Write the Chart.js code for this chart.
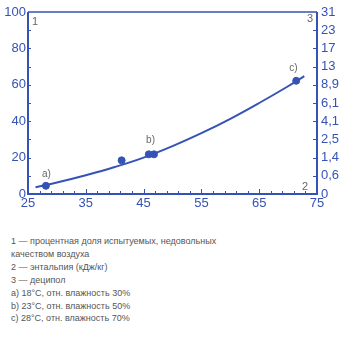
<!DOCTYPE html>
<html>
<head>
<meta charset="utf-8">
<script src="https://cdn.jsdelivr.net/npm/chart.js@4/dist/chart.umd.min.js"></script>
<style>
body { margin: 0; background: #fff; width: 362px; height: 339px; overflow: hidden; }
#wrap { position: relative; width: 362px; height: 215px; }
#notes {
  font-family: "Liberation Sans", Arial, sans-serif;
  font-size: 9px; color: #555; line-height: 12.9px;
  margin: 20px 0 0 11px;
}
</style>
</head>
<body>
<div id="wrap"><canvas id="chart" width="362" height="215"></canvas></div>
<div id="notes">
1 — процентная доля испытуемых, недовольных<br>
качеством воздуха<br>
2 — энтальпия (кДж/кг)<br>
3 — деципол<br>
a) 18°C, отн. влажность 30%<br>
b) 23°C, отн. влажность 50%<br>
c) 28°C, отн. влажность 70%
</div>
<script>
// measured points (enthalpy, % dissatisfied)
const pointX = [28.1, 41.2, 45.9, 46.8, 71.4];
const pointY = [4.5, 18.5, 21.8, 21.8, 62.2];

// fitted curve
const curveX = [26.3, 30, 35, 40, 45, 50, 55, 60, 65, 70, 72.8];
const curveY = [3.7, 6.3, 10.3, 14.8, 20, 26.3, 33.4, 41.3, 50, 59.2, 64.8];

// right axis (decipol) labels, one for every 10 %
const decipolLabels = ['0', '0,6', '1,4', '2,5', '4,1', '6,1', '8,9', '13', '17', '23', '31'];

// point markers a), b), c)
const markNames = ['a)', 'b)', 'c)'];
const markX = [28.2, 46.2, 70.9];
const markY = [11, 29.5, 69];

const blue = '#3553b5';
const tickFont = { family: 'Liberation Sans', size: 13 };

const frame = {
  id: 'frame',
  afterDatasetsDraw(chart) {
    const c = chart.ctx, a = chart.chartArea;
    const xs = chart.scales.x, ys = chart.scales.y;
    c.save();
    c.strokeStyle = blue;
    c.lineWidth = 2;
    c.beginPath();
    c.moveTo(a.left, a.top); c.lineTo(a.left, a.bottom); c.lineTo(a.right, a.bottom); c.lineTo(a.right, a.top);
    c.stroke();
    c.lineWidth = 1.3;
    c.beginPath(); c.moveTo(a.left, a.top); c.lineTo(a.right, a.top); c.stroke();
    // inward ticks
    c.lineWidth = 1;
    c.beginPath();
    for (let v = 10; v < 100; v += 10) {
      const y = Math.round(ys.getPixelForValue(v)) + 0.5;
      c.moveTo(a.left, y); c.lineTo(a.left + 3, y);
      c.moveTo(a.right, y); c.lineTo(a.right - 4, y);
    }
    for (let v = 27; v < 75; v++) {
      const x = Math.round(xs.getPixelForValue(v)) + 0.5;
      const len = (v - 25) % 10 === 0 ? 5 : (v % 2 === 1 ? 3 : 0);
      if (!len) continue;
      c.moveTo(x, a.bottom); c.lineTo(x, a.bottom - len);
    }
    c.stroke();
    // labels
    c.fillStyle = '#666';
    c.font = '11px "Liberation Sans"';
    c.textBaseline = 'middle';
    c.textAlign = 'left';
    c.fillText('1', a.left + 4, a.top + 10);
    c.textAlign = 'right';
    c.fillText('3', a.right - 4, a.top + 7);
    c.fillText('2', a.right - 9, a.bottom - 7);
    c.textAlign = 'center';
    c.font = '10px "Liberation Sans"';
    markNames.forEach((n, i) => {
      c.fillText(n, xs.getPixelForValue(markX[i]), ys.getPixelForValue(markY[i]));
    });
    c.restore();
  }
};

new Chart(document.getElementById('chart'), {
  type: 'scatter',
  data: {
    datasets: [{
      type: 'line',
      data: curveX.map((x, i) => ({ x: x, y: curveY[i] })),
      borderColor: blue,
      borderWidth: 2,
      pointRadius: 0,
      tension: 0.4,
      fill: false
    }, {
      data: pointX.map((x, i) => ({ x: x, y: pointY[i] })),
      backgroundColor: blue,
      borderColor: blue,
      pointRadius: 3.5
    }]
  },
  options: {
    responsive: false,
    animation: false,
    layout: { padding: { top: 12 } },
    plugins: { legend: { display: false }, tooltip: { enabled: false } },
    scales: {
      x: {
        type: 'linear', min: 25, max: 75,
        afterFit: s => { s.height = 21; },
        grid: { display: false, drawTicks: false },
        border: { display: false },
        ticks: { stepSize: 10, color: blue, font: tickFont, padding: 2, maxRotation: 0, autoSkip: false }
      },
      y: {
        min: 0, max: 100,
        afterFit: s => { s.width = 28; },
        grid: { display: false, drawTicks: false },
        border: { display: false },
        ticks: { stepSize: 20, color: blue, font: tickFont, padding: 2, autoSkip: false }
      },
      y2: {
        position: 'right', min: 0, max: 100,
        afterFit: s => { s.width = 45; },
        grid: { display: false, drawTicks: false },
        border: { display: false },
        ticks: {
          stepSize: 10, color: blue, font: tickFont, padding: 4, autoSkip: false,
          callback: (v, i) => decipolLabels[i]
        }
      }
    }
  },
  plugins: [frame]
});
</script>
</body>
</html>
